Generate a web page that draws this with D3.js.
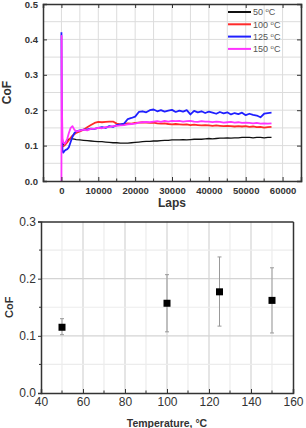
<!DOCTYPE html>
<html><head><meta charset="utf-8">
<script src="https://cdn.jsdelivr.net/npm/d3@7"></script>
<style>
body{margin:0;background:#fff;}
svg{display:block;font-family:"Liberation Sans",Arial,sans-serif;}
</style></head>
<body><svg id="c" width="306" height="428"></svg>
<script>
// ---- Top chart data ----
const laps = [0,50,150,300,500,800,1200,1600,2000,2500,3000,3500,4000,
5000,6000,7000,8000,9000,10000,11000,12000,13000,14000,15000,16000,17000,18000,19000,20000,
21000,22000,23000,24000,25000,26000,27000,28000,29000,30000,31000,32000,33000,34000,35000,
36000,37000,38000,39000,40000,41000,42000,43000,44000,45000,46000,47000,48000,49000,50000,
51000,52000,53000,54000,55000,56000,57000];
const cof50 = [0.10,0.10,0.10,0.10,0.103,0.107,0.11,0.115,0.118,0.12,0.119,0.118,0.117,
0.116,0.115,0.114,0.113,0.112,0.111,0.111,0.11,0.109,0.108,0.108,0.107,0.107,0.107,0.108,0.109,
0.11,0.111,0.112,0.112,0.113,0.113,0.114,0.115,0.115,0.116,0.116,0.116,0.117,0.116,0.117,
0.118,0.118,0.118,0.119,0.12,0.119,0.12,0.121,0.121,0.122,0.121,0.122,0.122,0.123,0.123,
0.123,0.122,0.123,0.123,0.122,0.123,0.123];
const cof100 = [0.10,0.10,0.098,0.097,0.098,0.10,0.105,0.11,0.115,0.122,0.128,0.132,0.136,
0.14,0.145,0.152,0.158,0.164,0.167,0.166,0.167,0.168,0.168,0.162,0.16,0.161,0.163,0.162,0.164,
0.165,0.166,0.165,0.164,0.165,0.163,0.162,0.163,0.161,0.16,0.161,0.16,0.159,0.16,0.158,
0.159,0.158,0.157,0.158,0.157,0.156,0.157,0.156,0.155,0.156,0.155,0.154,0.155,0.154,0.155,
0.153,0.154,0.152,0.153,0.151,0.152,0.153];
const cof125 = [0.42,0.30,0.12,0.085,0.08,0.085,0.088,0.09,0.095,0.11,0.125,0.135,0.14,
0.143,0.145,0.146,0.148,0.147,0.15,0.152,0.15,0.155,0.153,0.158,0.16,0.162,0.175,0.178,0.182,
0.195,0.197,0.194,0.20,0.202,0.197,0.20,0.196,0.199,0.201,0.195,0.199,0.196,0.20,0.188,
0.198,0.194,0.197,0.192,0.196,0.193,0.19,0.195,0.191,0.194,0.188,0.192,0.189,0.193,0.186,
0.19,0.187,0.185,0.18,0.19,0.192,0.193];
const cof150 = [0.0,0.41,0.20,0.12,0.11,0.105,0.11,0.12,0.135,0.15,0.155,0.145,0.14,
0.142,0.145,0.143,0.147,0.148,0.15,0.149,0.152,0.153,0.155,0.156,0.157,0.158,0.16,0.161,0.162,
0.165,0.166,0.167,0.166,0.168,0.169,0.167,0.17,0.168,0.17,0.169,0.17,0.168,0.169,0.17,
0.168,0.167,0.169,0.168,0.168,0.166,0.168,0.167,0.165,0.166,0.167,0.165,0.166,0.164,0.165,
0.164,0.163,0.164,0.162,0.163,0.162,0.163];
const seriesNames = ["50 °C","100 °C","125 °C","150 °C"];
const seriesColors = ["#111111","#ff2a2a","#2020ff","#ff33ff"];
const lapTicks = [0,10000,20000,30000,40000,50000,60000];
const cofTicksTop = [0.0,0.1,0.2,0.3,0.4,0.5];

// ---- Bottom chart data ----
const temps = [50,100,125,150];
const meanCof = [0.115,0.157,0.177,0.162];
const errLow = [0.102,0.107,0.117,0.105];
const errHigh = [0.130,0.207,0.238,0.219];
const tempTicks = [40,60,80,100,120,140,160];
const cofTicksBot = [0.0,0.1,0.2,0.3];

const svg = d3.select("#c");
const allSeries = [cof50,cof100,cof125,cof150];

// ===== Top chart =====
(function(){
  const x = d3.scaleLinear().domain([-5000,65000]).range([43,301]);
  const y = d3.scaleLinear().domain([0,0.5]).range([181,4]);
  const g = svg.append("g");
  // grid
  const xg = d3.range(0,65001,5000), yg = d3.range(0.05,0.5,0.05);
  g.selectAll(".vg").data(xg).join("line")
    .attr("x1",d=>x(d)).attr("x2",d=>x(d)).attr("y1",y(0)).attr("y2",y(0.5))
    .attr("stroke","#dcdcdc").attr("stroke-width",1);
  g.selectAll(".hg").data(yg).join("line")
    .attr("y1",d=>y(d)).attr("y2",d=>y(d)).attr("x1",x(-5000)).attr("x2",x(65000))
    .attr("stroke","#dcdcdc").attr("stroke-width",1);
  // lines
  const line = d3.line().x((d,i)=>x(laps[i])).y(d=>y(d));
  allSeries.forEach((s,k)=>{
    g.append("path").datum(s).attr("d",line).attr("fill","none")
      .attr("stroke",seriesColors[k]).attr("stroke-width",k===0?1.3:1.8)
      .attr("stroke-linejoin","round");
  });
  // axes with inward ticks
  const bottom = g.append("g").attr("transform",`translate(0,${y(0)})`)
    .call(d3.axisBottom(x).tickValues(lapTicks).tickSize(-4).tickPadding(6).tickFormat(d3.format("d")));
  bottom.append("g").selectAll("line").data(d3.range(5000,65000,10000)).join("line")
    .attr("x1",d=>x(d)).attr("x2",d=>x(d)).attr("y1",0).attr("y2",-2.5).attr("stroke","#333");
  const left = g.append("g").attr("transform",`translate(${x(-5000)},0)`)
    .call(d3.axisLeft(y).tickValues(cofTicksTop).tickSize(-4).tickPadding(5).tickFormat(d3.format(".1f")));
  g.append("g").attr("transform",`translate(0,${y(0.5)})`)
    .call(d3.axisTop(x).tickValues(lapTicks).tickSize(-4).tickFormat(""));
  g.append("g").attr("transform",`translate(${x(65000)},0)`)
    .call(d3.axisRight(y).tickValues(cofTicksTop).tickSize(-4).tickFormat(""));
  g.selectAll(".domain").attr("stroke","#333").attr("stroke-width",1.5);
  g.selectAll(".tick line").attr("stroke","#333");
  [bottom,left].forEach(a=>a.selectAll("text").attr("font-size",9.5).attr("font-weight","bold").attr("fill","#333"));
  g.append("text").attr("x",x(30000)).attr("y",207).attr("text-anchor","middle")
    .attr("font-size",12).attr("font-weight","bold").attr("fill","#333").text("Laps");
  g.append("text").attr("transform",`translate(11,${y(0.25)}) rotate(-90)`).attr("text-anchor","middle")
    .attr("font-size",12).attr("font-weight","bold").attr("fill","#333").text("CoF");
  // legend
  const lg = g.append("g");
  seriesNames.forEach((n,k)=>{
    const yy = 12 + k*12.3;
    lg.append("line").attr("x1",228).attr("x2",251).attr("y1",yy).attr("y2",yy)
      .attr("stroke",seriesColors[k]).attr("stroke-width",2);
    const parts = n.split(" °");
    const t = lg.append("text").attr("x",253).attr("y",yy+3.3).attr("font-size",9).attr("fill","#555");
    t.append("tspan").text(parts[0]+" ");
    t.append("tspan").attr("font-size",6).attr("dy",-3).text("o");
    t.append("tspan").attr("dy",3).text("C");
  });
})();

// ===== Bottom chart =====
(function(){
  const x = d3.scaleLinear().domain([40,160]).range([41,293]);
  const y = d3.scaleLinear().domain([0,0.3]).range([393,221.5]);
  const g = svg.append("g");
  g.selectAll(".vg").data(d3.range(50,160,10)).join("line")
    .attr("x1",d=>x(d)).attr("x2",d=>x(d)).attr("y1",y(0)).attr("y2",y(0.3))
    .attr("stroke",d=>d%20===0?"#d4d4d4":"#ececec").attr("stroke-width",1.2);
  g.selectAll(".hg").data([0.05,0.1,0.15,0.2,0.25]).join("line")
    .attr("y1",d=>y(d)).attr("y2",d=>y(d)).attr("x1",x(40)).attr("x2",x(160))
    .attr("stroke",(d,i)=>i%2===1?"#d4d4d4":"#ececec").attr("stroke-width",1.2);
  // error bars
  g.selectAll(".eb").data(temps).join("line")
    .attr("x1",d=>x(d)).attr("x2",d=>x(d)).attr("y1",(d,i)=>y(errLow[i])).attr("y2",(d,i)=>y(errHigh[i]))
    .attr("stroke","#999").attr("stroke-width",1);
  [errLow,errHigh].forEach(arr=>{
    g.selectAll(null).data(temps).join("line")
      .attr("x1",d=>x(d)-2).attr("x2",d=>x(d)+2).attr("y1",(d,i)=>y(arr[i])).attr("y2",(d,i)=>y(arr[i]))
      .attr("stroke","#999").attr("stroke-width",1);
  });
  g.selectAll(".pt").data(temps).join("rect")
    .attr("x",d=>x(d)-3.5).attr("y",(d,i)=>y(meanCof[i])-3.5).attr("width",7).attr("height",7)
    .attr("fill","#000");
  const bottom = g.append("g").attr("transform",`translate(0,${y(0)})`)
    .call(d3.axisBottom(x).tickValues(tempTicks).tickSize(-4).tickPadding(4));
  bottom.append("g").selectAll("line").data(d3.range(50,160,20)).join("line")
    .attr("x1",d=>x(d)).attr("x2",d=>x(d)).attr("y1",0).attr("y2",-2.5).attr("stroke","#333");
  const left = g.append("g").attr("transform",`translate(${x(40)},0)`)
    .call(d3.axisLeft(y).tickValues(cofTicksBot).tickSize(3).tickPadding(2).tickFormat(d3.format(".1f")));
  left.append("g").selectAll("line").data([0.05,0.15,0.25]).join("line")
    .attr("x1",0).attr("x2",-2).attr("y1",d=>y(d)).attr("y2",d=>y(d)).attr("stroke","#333");
  g.append("g").attr("transform",`translate(0,${y(0.3)})`)
    .call(d3.axisTop(x).tickValues([]).tickSize(0));
  g.append("g").attr("transform",`translate(${x(160)},0)`)
    .call(d3.axisRight(y).tickValues([]).tickSize(0));
  g.selectAll(".domain").attr("stroke","#333").attr("stroke-width",1.5);
  g.selectAll(".tick line").attr("stroke","#333");
  [bottom,left].forEach(a=>a.selectAll("text").attr("font-size",12).attr("fill","#333"));
  g.append("text").attr("x",x(100)).attr("y",427).attr("text-anchor","middle")
    .attr("font-size",10.5).attr("font-weight","bold").attr("fill","#333").text("Temperature, °C");
  g.append("text").attr("transform",`translate(13,${y(0.15)}) rotate(-90)`).attr("text-anchor","middle")
    .attr("font-size",11).attr("font-weight","bold").attr("fill","#333").text("CoF");
})();
</script></body></html>
